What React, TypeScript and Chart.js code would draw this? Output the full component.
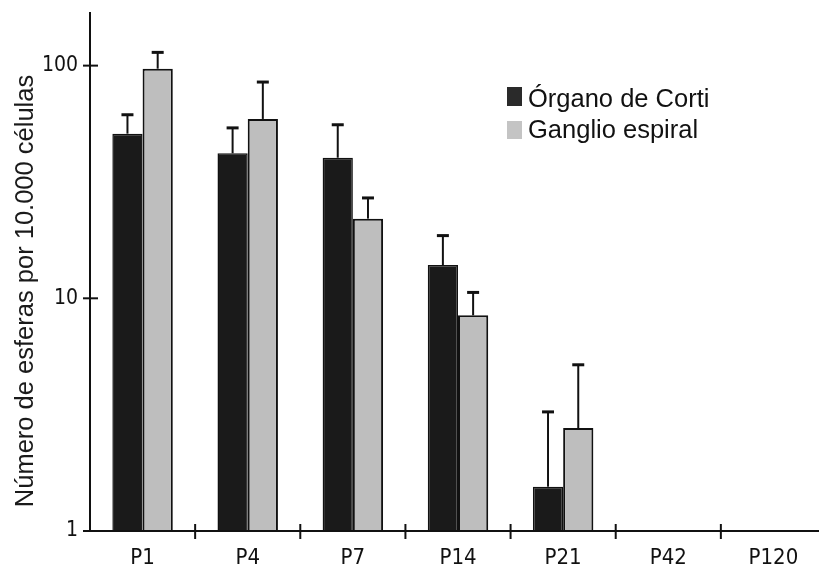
import React, { useEffect, useRef } from "react";
import { Chart, registerables } from "chart.js";

Chart.register(...registerables);

const categories = ["P1", "P4", "P7", "P14", "P21", "P42", "P120"];
const seriesNames = ["Órgano de Corti", "Ganglio espiral"];
const organoCorti = [51, 42, 40.2, 13.9, 1.55, null, null];
const organoCortiUpper = [61.5, 54, 55.7, 18.6, 3.25, null, null];
const ganglioEspiral = [97, 59, 22, 8.45, 2.77, null, null];
const ganglioEspiralUpper = [114, 85, 27, 10.6, 5.18, null, null];
const yTicks = [1, 10, 100];
const yTitle = "Número de esferas por 10.000 células";

const upperBounds = [organoCortiUpper, ganglioEspiralUpper];
const colors = ["#1a1a1a", "#bebebe"];

const AXIS_COLOR = "#111";
const TICK_FONT = "'DejaVu Sans Condensed', 'DejaVu Sans', sans-serif";
const TEXT_FONT = "'Liberation Sans', Arial, sans-serif";

const decorPlugin = {
  id: "decor",
  afterDatasetsDraw(chart: any) {
    const ctx = chart.ctx;
    const y = chart.scales.y;
    ctx.save();
    chart.data.datasets.forEach((ds: any, di: number) => {
      const meta = chart.getDatasetMeta(di);
      meta.data.forEach((bar: any, i: number) => {
        const up = upperBounds[di][i];
        const v = ds.data[i];
        if (up == null || v == null) return;
        const px = bar.x;
        const topPx = y.getPixelForValue(up);
        ctx.strokeStyle = AXIS_COLOR;
        ctx.lineWidth = 2;
        ctx.beginPath();
        ctx.moveTo(px, bar.y);
        ctx.lineTo(px, topPx);
        ctx.stroke();
        ctx.lineWidth = 3;
        ctx.beginPath();
        ctx.moveTo(px - 6, topPx);
        ctx.lineTo(px + 6, topPx);
        ctx.stroke();
      });
    });
    ctx.restore();
  },
  afterDraw(chart: any) {
    const ctx = chart.ctx;
    const y = chart.scales.y;
    const x = chart.scales.x;
    const area = chart.chartArea;
    ctx.save();
    ctx.strokeStyle = AXIS_COLOR;
    ctx.lineWidth = 2;
    ctx.beginPath();
    ctx.moveTo(area.left, area.top);
    ctx.lineTo(area.left, area.bottom);
    ctx.lineTo(chart.width, area.bottom);
    ctx.stroke();
    yTicks.forEach((t) => {
      const py = y.getPixelForValue(t);
      ctx.beginPath();
      ctx.moveTo(area.left - 7, py);
      ctx.lineTo(area.left + (t === 1 ? 0 : 8), py);
      ctx.stroke();
    });
    for (let i = 1; i < categories.length; i++) {
      const px = (x.getPixelForValue(i - 1) + x.getPixelForValue(i)) / 2;
      ctx.beginPath();
      ctx.moveTo(px, area.bottom - 7);
      ctx.lineTo(px, area.bottom + 8);
      ctx.stroke();
    }
    // y title
    ctx.fillStyle = "#1a1a1a";
    ctx.font = `25.5px ${TEXT_FONT}`;
    ctx.textAlign = "center";
    ctx.textBaseline = "alphabetic";
    ctx.translate(33, 291);
    ctx.rotate(-Math.PI / 2);
    ctx.fillText(yTitle, 0, 0);
    ctx.setTransform(1, 0, 0, 1, 0, 0);
    // legend
    const lx = 507;
    const baselines = [107, 138];
    const boxTops = [87, 121];
    const boxH = [19, 18];
    ctx.textAlign = "left";
    ctx.font = `25.5px ${TEXT_FONT}`;
    seriesNames.forEach((name, i) => {
      ctx.fillStyle = i === 0 ? "#2a2a2a" : "#c4c4c4";
      ctx.fillRect(lx, boxTops[i], 15, boxH[i]);
      ctx.fillStyle = "#111";
      ctx.fillText(name, 528, baselines[i]);
    });
    ctx.restore();
  },
};

export default function App() {
  const ref = useRef<HTMLCanvasElement>(null);
  useEffect(() => {
    if (!ref.current) return;
    const chart = new Chart(ref.current, {
      type: "bar",
      data: {
        labels: categories,
        datasets: [
          {
            label: seriesNames[0],
            data: organoCorti as any,
            backgroundColor: colors[0],
            borderColor: AXIS_COLOR,
            borderWidth: 1.5,
            categoryPercentage: 0.575,
            barPercentage: 1,
          },
          {
            label: seriesNames[1],
            data: ganglioEspiral as any,
            backgroundColor: colors[1],
            borderColor: AXIS_COLOR,
            borderWidth: 2,
            categoryPercentage: 0.575,
            barPercentage: 1,
          },
        ],
      },
      options: {
        animation: false,
        responsive: false,
        maintainAspectRatio: false,
        layout: { padding: { top: 12, right: 14, left: 0, bottom: 0 } },
        plugins: {
          legend: { display: false },
          tooltip: { enabled: false },
          title: { display: false },
        },
        scales: {
          x: {
            type: "category",
            grid: { display: false, drawTicks: false },
            border: { display: false },
            ticks: {
              color: "#111",
              font: { family: TICK_FONT, size: 22 },
              padding: 14,
              maxRotation: 0,
              autoSkip: false,
            },
            afterFit: (s: any) => {
              s.height = 43;
              s.paddingLeft = 0;
              s.paddingRight = 0;
            },
          },
          y: {
            type: "logarithmic",
            min: 1,
            max: 170,
            grid: { display: false, drawTicks: false },
            border: { display: false },
            afterBuildTicks: (s: any) => {
              s.ticks = yTicks.map((v) => ({ value: v }));
            },
            ticks: {
              color: "#111",
              font: { family: TICK_FONT, size: 21 },
              padding: 12,
              callback: (v: any) => String(v),
            },
            afterFit: (s: any) => {
              s.width = 90;
              s.paddingTop = 0;
              s.paddingBottom = 0;
            },
          },
        },
      },
      plugins: [decorPlugin],
    });
    return () => chart.destroy();
  }, []);
  return (
    <div
      style={{
        position: "fixed",
        left: 0,
        top: 0,
        width: 819,
        height: 574,
        overflow: "hidden",
        background: "#fff",
      }}
    >
      <canvas ref={ref} width={840} height={574} style={{ width: 840, height: 574, display: "block" }} />
    </div>
  );
}
